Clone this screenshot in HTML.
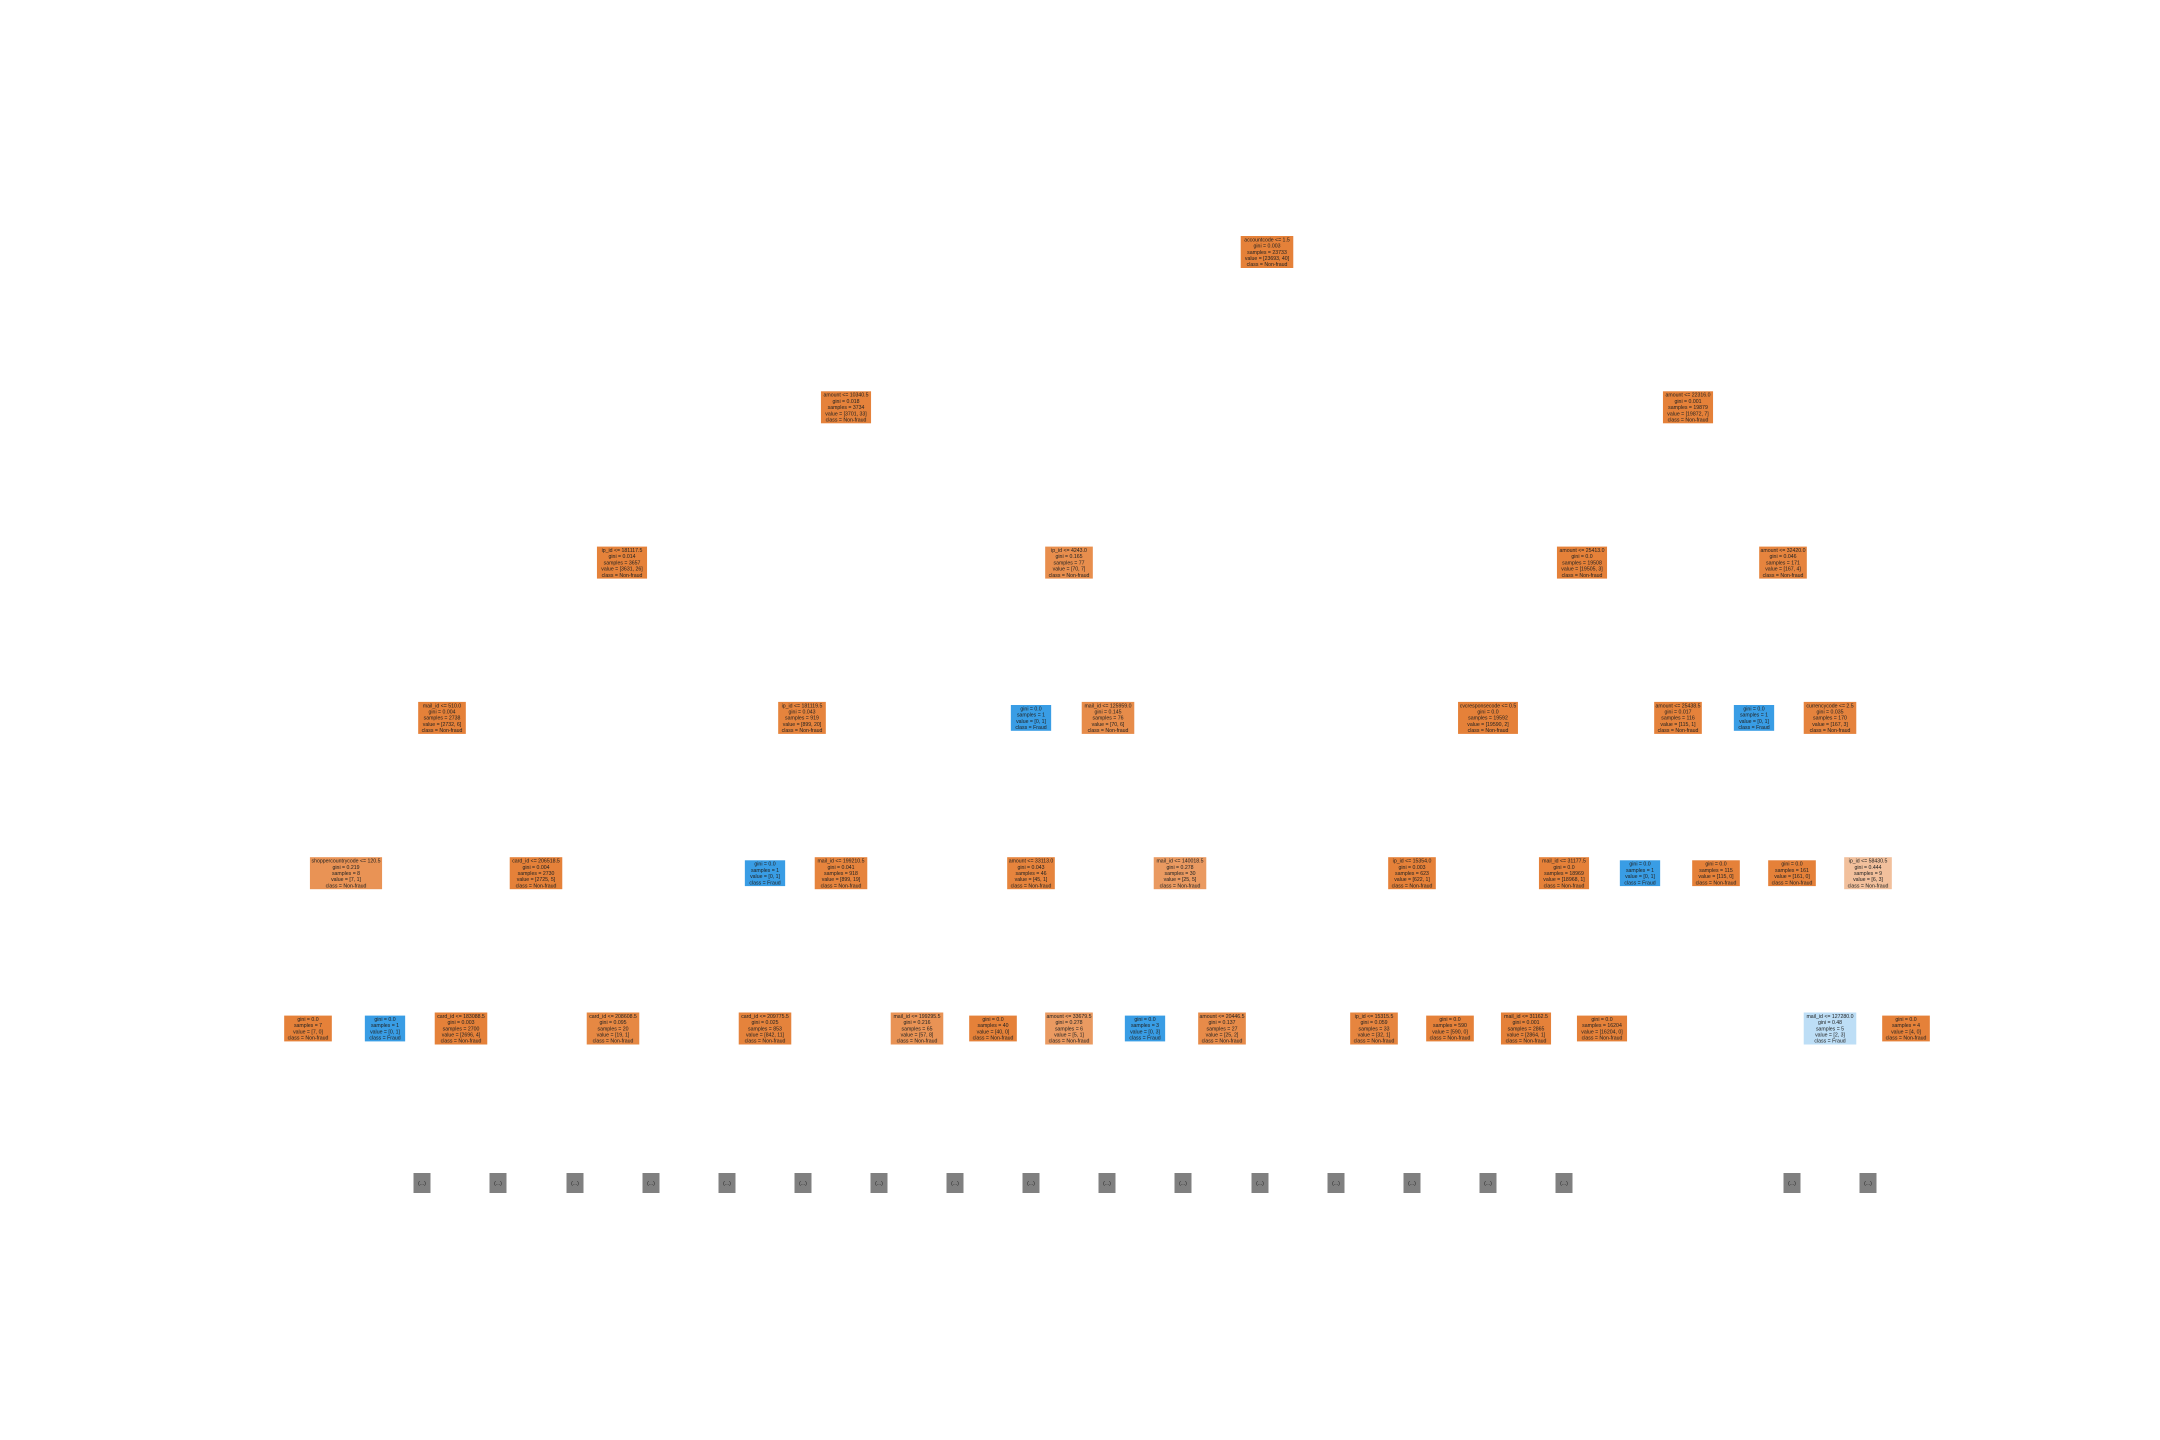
<!DOCTYPE html>
<html><head><meta charset="utf-8">
<style>
html,body{margin:0;padding:0;background:#fff;}
svg{display:block;}
text{font-family:"Liberation Sans",sans-serif;font-size:5.2px;fill:#222;}
</style></head>
<body>
<svg id="tree" width="2160" height="1440" viewBox="0 0 2160 1440" xmlns="http://www.w3.org/2000/svg"></svg>
<script>
// node centre x, level, split text (empty = leaf), gini, samples, values
const nodeX = [1267, 846,1688, 622,1069,1582,1783, 442,802,1031,1108,1488,1678,1754,1830,
  346,536,765,841,1031,1180,1412,1564,1640,1716,1792,1868,
  308,385,461,613,765,917,993,1069,1145,1222,1374,1450,1526,1602,1830,1906];
const nodeLevel = [0,1,1,2,2,2,2,3,3,3,3,3,3,3,3,
  4,4,4,4,4,4,4,4,4,4,4,4,
  5,5,5,5,5,5,5,5,5,5,5,5,5,5,5,5];
const nodeSplit = ["accountcode <= 1.5","amount <= 10340.5","amount <= 22316.0","ip_id <= 181117.5","ip_id <= 4243.0","amount <= 25413.0","amount <= 32420.0",
  "mail_id <= 510.0","ip_id <= 181119.5","","mail_id <= 125959.0","cvcresponsecode <= 0.5","amount <= 25438.5","","currencycode <= 2.5",
  "shoppercountrycode <= 120.5","card_id <= 206518.5","","mail_id <= 199210.5","amount <= 33113.0","mail_id <= 140018.5","ip_id <= 15354.0","mail_id <= 31177.5","","","","ip_id <= 58430.5",
  "","","card_id <= 183088.5","card_id <= 208608.5","card_id <= 209775.5","mail_id <= 199295.5","","amount <= 33679.5","","amount <= 20446.5","ip_id <= 15315.5","","mail_id <= 31162.5","","mail_id <= 127280.0",""];
const nodeGini = ["0.003","0.018","0.001","0.014","0.165","0.0","0.046","0.004","0.043","0.0","0.145","0.0","0.017","0.0","0.035",
  "0.219","0.004","0.0","0.041","0.043","0.278","0.003","0.0","0.0","0.0","0.0","0.444",
  "0.0","0.0","0.003","0.095","0.025","0.216","0.0","0.278","0.0","0.137","0.059","0.0","0.001","0.0","0.48","0.0"];
const nodeA = [23693,3701,19872,3631,70,19505,167,2732,899,0,70,19590,115,0,167,
  7,2725,0,899,45,25,622,18968,0,115,161,6,
  7,0,2696,19,842,57,40,5,0,25,32,590,2864,16204,2,4];
const nodeB = [40,33,7,26,7,3,4,6,20,1,6,2,1,1,3,
  1,5,1,19,1,5,1,1,1,0,0,3,
  0,1,4,1,11,8,0,1,3,2,1,0,1,0,3,0];
const truncX = [422,498,575,651,727,803,879,955,1031,1107,1183,1260,1336,1412,1488,1564,1792,1868];

const svg = document.getElementById('tree');
const NS = 'http://www.w3.org/2000/svg';
const levelY = l => 252 + l*155.3;
function col(a,b){
  const t=a+b, pa=a/t, pb=b/t;
  const fraud = pb>pa; const p=Math.max(pa,pb);
  const alpha=(2*p-1)/p;
  const base = fraud?[57,157,229]:[229,129,57];
  return 'rgb('+base.map(c=>Math.round(alpha*c+(1-alpha)*255)).join(',')+')';
}
nodeX.forEach((cx,i)=>{
  const lines=[];
  if(nodeSplit[i]) lines.push(nodeSplit[i]);
  lines.push('gini = '+nodeGini[i]);
  lines.push('samples = '+(nodeA[i]+nodeB[i]));
  lines.push('value = ['+nodeA[i]+', '+nodeB[i]+']');
  lines.push('class = '+(nodeB[i]>nodeA[i]?'Fraud':'Non-fraud'));
  const maxLen=Math.max(...lines.map(s=>s.length));
  const w=Math.max(34, maxLen*2.45+6);
  const h=lines.length*6.2+1;
  const cy=levelY(nodeLevel[i]) - (lines.length===4?0:0);
  const g=document.createElementNS(NS,'g');
  
  
  const r=document.createElementNS(NS,'rect');
  
  
  r.setAttribute('x',cx-w/2); r.setAttribute('y',cy-h/2);
  r.setAttribute('width',w); r.setAttribute('height',h);
  r.setAttribute('fill',col(nodeA[i],nodeB[i]));
  g.appendChild(r);
  lines.forEach((s,k)=>{
    const t=document.createElementNS(NS,'text');
    
    
    t.setAttribute('x',cx); t.setAttribute('text-anchor','middle');
    t.setAttribute('y',cy-h/2+5.4+k*6.2);
    t.textContent=s; g.appendChild(t);
  });
  svg.appendChild(g);
});
truncX.forEach(cx=>{
  const cy=1183;
  const r=document.createElementNS(NS,'rect');
  
  
  r.setAttribute('x',cx-8.5); r.setAttribute('y',cy-10);
  r.setAttribute('width',17); r.setAttribute('height',20);
  r.setAttribute('fill','#808080');
  svg.appendChild(r);
  const t=document.createElementNS(NS,'text');
  
  
  t.setAttribute('x',cx); t.setAttribute('y',cy+2); t.setAttribute('text-anchor','middle');
  t.textContent='(...)'; svg.appendChild(t);
});
</script>
</body></html>
